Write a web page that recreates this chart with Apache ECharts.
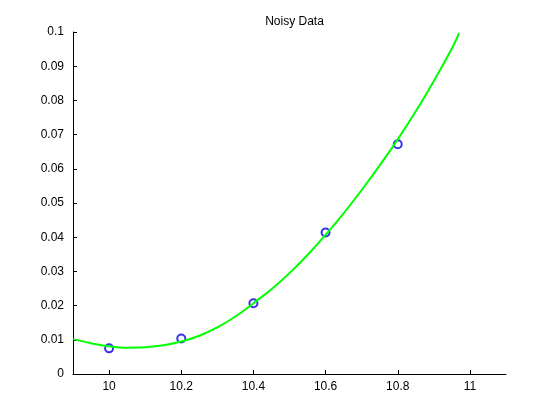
<!DOCTYPE html>
<html>
<head>
<meta charset="utf-8">
<script src="https://cdn.jsdelivr.net/npm/echarts@6/dist/echarts.min.js"></script>
<style>html,body{margin:0;padding:0;background:#fff}#c{width:560px;height:420px}</style>
</head>
<body>
<div id="c"></div>
<script>
var pointX = [10, 10.2, 10.4, 10.6, 10.8];
var pointY = [0.0075, 0.0104, 0.0207, 0.0414, 0.0672];
var curveX = [9.9, 9.95, 10.0, 10.05, 10.1, 10.15, 10.2, 10.25, 10.3, 10.35, 10.4, 10.45, 10.5, 10.55, 10.6, 10.65, 10.7, 10.75, 10.8, 10.85, 10.9, 10.95, 10.97];
var curveY = [0.0102, 0.0090, 0.0081, 0.0077, 0.0078, 0.0084, 0.0095, 0.0112, 0.0136, 0.0168, 0.0207, 0.0248, 0.0295, 0.0348, 0.0407, 0.0470, 0.0538, 0.0610, 0.0686, 0.0768, 0.0857, 0.0952, 0.0997];
var xTicks = [10, 10.2, 10.4, 10.6, 10.8, 11];
var titleText = 'Noisy Data';

var font = 'Liberation Sans, Arial, Helvetica, sans-serif';
var chart = echarts.init(document.getElementById('c'));
chart.setOption({
  animation: false,
  backgroundColor: '#ffffff',
  title: {
    text: titleText, left: 289.5, top: 11, textAlign: 'center',
    textStyle: {fontFamily: font, fontSize: 12, fontWeight: 'normal', color: '#000'}
  },
  grid: {left: 73, right: 54, top: 32, bottom: 46, containLabel: false},
  xAxis: {
    type: 'value', min: 9.9, max: 11.1,
    axisLine: {show: true, lineStyle: {color: '#000', width: 1}},
    axisTick: {show: true, inside: true, length: 4, customValues: xTicks, lineStyle: {color: '#000'}},
    axisLabel: {show: true, customValues: xTicks, margin: 7, color: '#000', fontFamily: font, fontSize: 12,
      formatter: function (v) { return String(Math.round(v * 10) / 10); }},
    splitLine: {show: false}
  },
  yAxis: {
    type: 'value', min: 0, max: 0.1, interval: 0.01,
    axisLine: {show: true, lineStyle: {color: '#000', width: 1}},
    axisTick: {show: true, inside: true, length: 4, lineStyle: {color: '#000'}},
    axisLabel: {margin: 9, color: '#000', fontFamily: font, fontSize: 12,
      formatter: function (v) { return String(Math.round(v * 100) / 100); }},
    splitLine: {show: false}
  },
  series: [
    {
      type: 'scatter', z: 2,
      data: pointX.map(function (x, i) { return [x, pointY[i]]; }),
      symbol: 'circle', symbolSize: 8,
      itemStyle: {color: 'rgba(0,0,0,0)', borderColor: '#0000ee', borderWidth: 2}
    },
    {
      type: 'line', z: 3, smooth: 0.4, showSymbol: false, symbol: 'none',
      data: curveX.map(function (x, i) { return [x, curveY[i]]; }),
      lineStyle: {color: '#00ff00', width: 2}
    }
  ]
});
</script>
</body>
</html>
